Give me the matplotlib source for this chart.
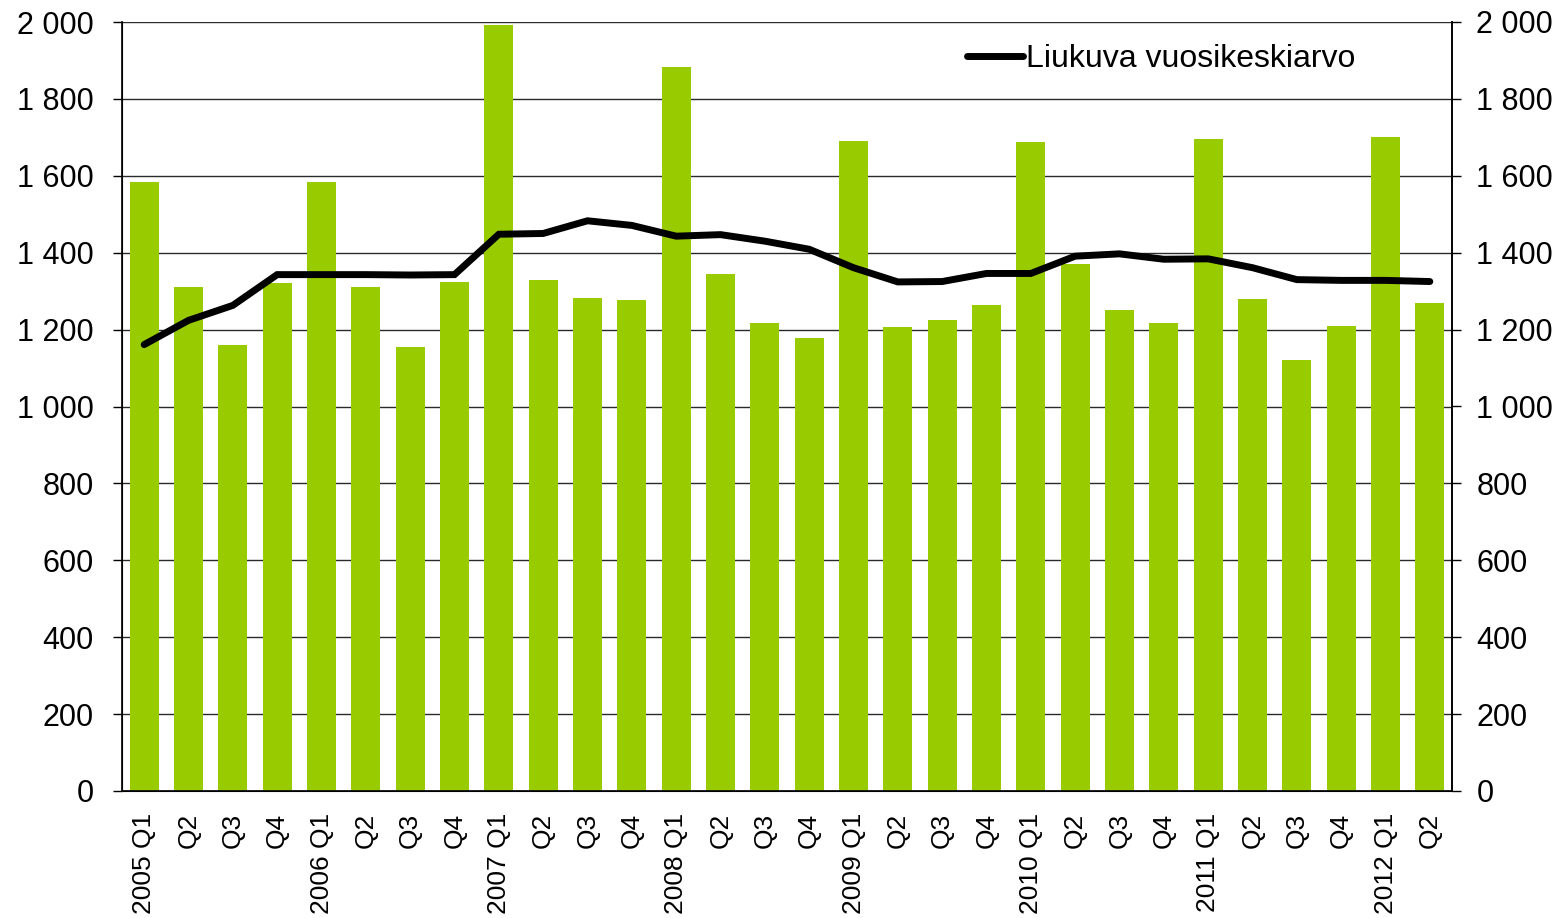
import matplotlib

matplotlib.use("Agg")

import matplotlib.pyplot as plt
import numpy as np
from matplotlib.ticker import FuncFormatter, MultipleLocator

plt.rcParams["font.family"] = ["Liberation Sans", "DejaVu Sans"]

YEARS = ["2005", "2006", "2007", "2008", "2009", "2010", "2011", "2012"]
QUARTERS = ["Q1", "Q2", "Q3", "Q4"]

# quarterly values (bars)
quarterly = [
    1583, 1310, 1159, 1320,
    1583, 1310, 1155, 1324,
    1991, 1328, 1283, 1278,
    1882, 1345, 1217, 1177,
    1690, 1206, 1226, 1265,
    1688, 1370, 1252, 1218,
    1697, 1279, 1122, 1209,
    1701, 1270,
]

# moving annual average (line)
moving_avg = [
    1161, 1224, 1263, 1343,
    1343, 1343, 1342, 1343,
    1448, 1450, 1483, 1471,
    1443, 1447, 1430, 1409,
    1361, 1324, 1325, 1346,
    1346, 1391, 1397, 1383,
    1384, 1361, 1330, 1328,
    1328, 1325,
]

LEGEND_LABEL = "Liukuva vuosikeskiarvo"
BAR_COLOR = "#99CC00"


def make_labels(n):
    labels = []
    for i in range(n):
        year = YEARS[i // 4]
        q = QUARTERS[i % 4]
        labels.append(f"{year} {q}" if q == "Q1" else q)
    return labels


def space_thousands(v, _pos):
    return f"{int(round(v)):,}".replace(",", " ")


def main():
    n = len(quarterly)
    x = np.arange(n)

    fig = plt.figure(figsize=(15.66, 9.18), dpi=100)
    ax = fig.add_axes([122 / 1566, 1 - 791 / 918, 1330 / 1566, 769 / 918])

    ax.bar(x, quarterly, width=0.66, color=BAR_COLOR, zorder=2)
    ax.plot(x, moving_avg, color="black", linewidth=5,
            solid_capstyle="round", solid_joinstyle="miter", zorder=3,
            label=LEGEND_LABEL)

    ax.set_xlim(-0.5, n - 0.5)
    ax.set_ylim(0, 2000)
    ax.yaxis.set_major_locator(MultipleLocator(200))
    ax.yaxis.set_major_formatter(FuncFormatter(space_thousands))
    ax.grid(axis="y", color="#2a2a2a", linewidth=1.0, zorder=0)
    ax.set_axisbelow(True)

    ax.set_xticks(x)
    ax.set_xticklabels(make_labels(n), rotation=90, ha="center", va="top")
    ax.tick_params(axis="x", length=0, pad=16, labelsize=19)
    ax.tick_params(axis="y", direction="out", length=6.5, width=1.0,
                   pad=14, labelsize=22)

    for side in ["left", "right", "bottom"]:
        ax.spines[side].set_color("black")
        ax.spines[side].set_linewidth(1.2)
    ax.spines["top"].set_visible(False)

    ax2 = ax.twinx()
    ax2.set_ylim(0, 2000)
    ax2.yaxis.set_major_locator(MultipleLocator(200))
    ax2.yaxis.set_major_formatter(FuncFormatter(space_thousands))
    ax2.tick_params(axis="y", direction="out", length=6.5, width=1.0,
                    pad=11, labelsize=22)
    ax2.spines["top"].set_visible(False)
    ax2.spines["right"].set_linewidth(1.2)

    ax.legend(loc="upper right", bbox_to_anchor=(0.944, 1.0), frameon=False,
              fontsize=23, handlelength=1.75, handletextpad=0.1,
              borderaxespad=0.3)

    fig.savefig("out.png", dpi=100)
    plt.close(fig)


if __name__ == "__main__":
    main()
